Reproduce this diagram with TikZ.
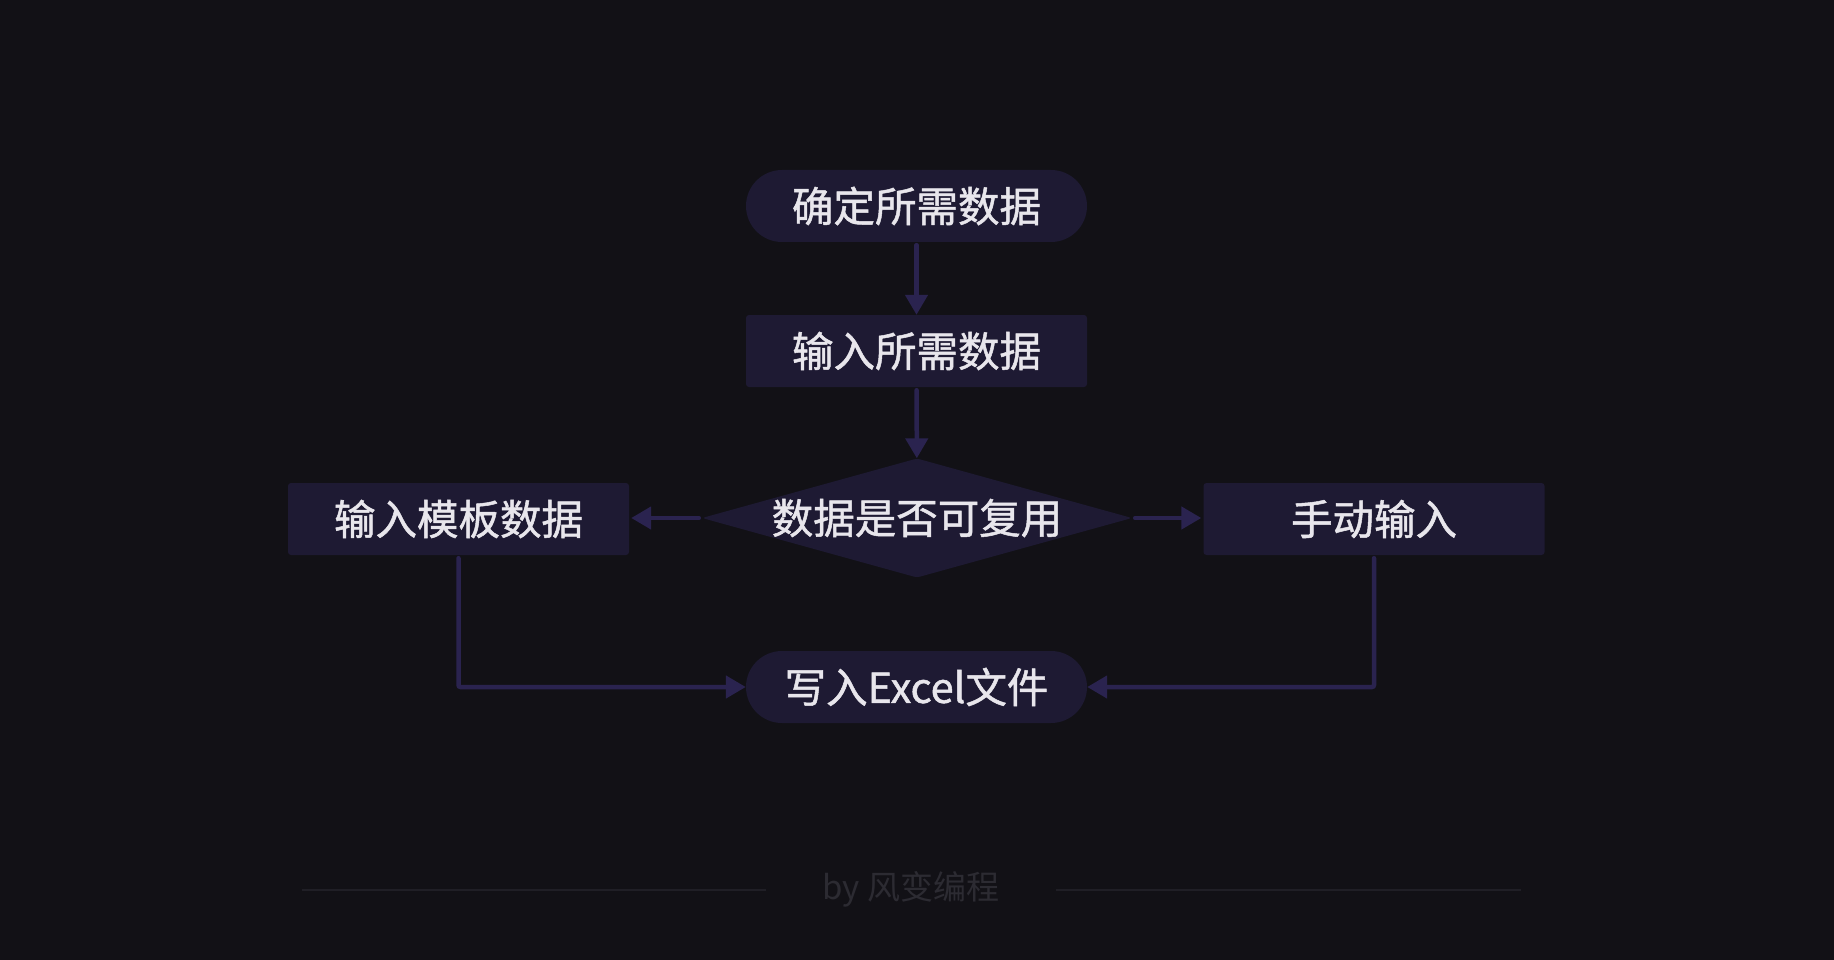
\documentclass[tikz,border=0pt]{standalone}
\usepackage{fontspec}
\setmainfont{Noto Sans CJK SC}
\newfontfamily\boxfont[FakeBold=1.2]{Noto Sans CJK SC}
\usetikzlibrary{shapes.geometric,arrows.meta}
\definecolor{bg}{HTML}{121116}
\definecolor{nodefill}{HTML}{1E1A33}
\definecolor{linec}{HTML}{2A234F}
\definecolor{txt}{HTML}{E8E6EC}
\definecolor{foot}{HTML}{2C2B32}
\definecolor{footline}{HTML}{201F26}
\begin{document}
\begin{tikzpicture}[x=1pt,y=-1pt,
  base/.style={fill=nodefill, text=txt, font=\boxfont\fontsize{41.5}{41.5}\selectfont, inner sep=0pt, minimum width=341pt, minimum height=72pt},
  term/.style={base, rounded corners=36pt},
  proc/.style={base, rounded corners=3pt},
  dec/.style={base, diamond, aspect=3.6, minimum width=430pt, minimum height=119pt, rounded corners=3pt},
  conn/.style={draw=linec, line width=4.5pt, line cap=round, -{Triangle[width=22pt,length=20pt]}},
  footrule/.style={draw=footline, line width=2pt}
]
\fill[bg] (0,0) rectangle (1834,960);
\useasboundingbox (0,0) rectangle (1834,960);

\node[term] (start) at (916.5,206) {确定所需数据};
\node[proc] (input) at (916.5,351) {输入所需数据};
\node[dec]  (reuse) at (917,518) {数据是否可复用};
\node[proc] (tmpl)  at (458.5,519) {输入模板数据};
\node[proc] (manual) at (1374,519) {手动输入};
\node[term] (write) at (916.5,687) {写入Excel文件};

\draw[conn, shorten <=3pt] (start) -- (input);
\draw[conn, shorten <=3pt] (input) -- (reuse);
\draw[conn, shorten <=3pt, shorten >=2pt] (reuse.west) -- (tmpl.east |- reuse.west);
\draw[conn, shorten <=3pt, shorten >=2pt] (reuse.east) -- (manual.west |- reuse.east);
\draw[conn, rounded corners=2pt, shorten <=3pt] (tmpl.south) |- (write.west);
\draw[conn, rounded corners=2pt, shorten <=3pt] (manual.south) |- (write.east);

\node[font=\fontsize{33}{33}\selectfont, text=foot] (by) at (911,889) {by 风变编程};
\coordinate (l1) at (302,890);
\coordinate (l2) at (766,890);
\coordinate (r1) at (1056,890);
\coordinate (r2) at (1521,890);
\draw[footrule] (l1) -- (l2);
\draw[footrule] (r1) -- (r2);
\end{tikzpicture}
\end{document}
